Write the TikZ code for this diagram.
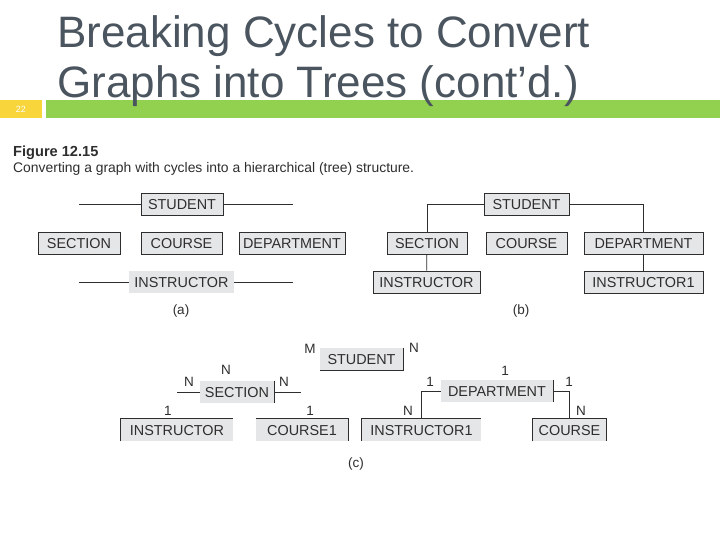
\documentclass[tikz,border=0pt]{standalone}
\usepackage{fontspec}
\setmainfont{Liberation Sans}
\definecolor{titlegray}{HTML}{4B555F}
\definecolor{bargreen}{HTML}{92D050}
\definecolor{baryellow}{HTML}{F8D53A}
\definecolor{boxfill}{HTML}{E5E6E7}
\definecolor{inkgray}{HTML}{2E2E2E}
\tikzset{
	entity/.style={fill=boxfill,draw=inkgray,line width=0.8pt,minimum height=22pt,
		inner sep=0pt,text height=10.5pt,text depth=0pt,text=inkgray,
		font=\fontsize{14.4}{16}\selectfont},
	entityopen/.style={entity,draw=none},
	link/.style={draw=inkgray,line width=0.8pt},
	card/.style={inner sep=0pt,text=inkgray,font=\fontsize{13.5}{15}\selectfont},
	sublabel/.style={inner sep=0pt,text=inkgray,font=\fontsize{13.5}{15}\selectfont},
}
\begin{document}
\begin{tikzpicture}[x=1pt,y=-1pt]
	\useasboundingbox[fill=white] (0,0) rectangle (720,540);
	% slide header
	\fill[baryellow] (0,100) rectangle (42,118);
	\fill[bargreen] (46,100) rectangle (720,118);
	\node[text=white,font=\fontsize{9}{10}\selectfont] (pagenum) at (21,109) {22};
	\node[anchor=base west,inner sep=0pt,text=titlegray,font=\fontsize{44}{50}\selectfont] (title1) at (57,48) {Breaking Cycles to Convert};
	\node[anchor=base west,inner sep=0pt,text=titlegray,font=\fontsize{44}{50}\selectfont] (title2) at (57,98) {Graphs into Trees (cont’d.)};
	\node[anchor=base west,inner sep=0pt,text=inkgray,font=\bfseries\fontsize{14.6}{16}\selectfont] (fignum) at (13,157) {Figure 12.15};
	\node[anchor=base west,inner sep=0pt,text=inkgray,font=\fontsize{13.9}{16}\selectfont] (figcap) at (13,172.5) {Converting a graph with cycles into a hierarchical (tree) structure.};
	%
	% (a) graph with cycles
	\node[entity,minimum width=82pt] (stua) at (182,204.5) {STUDENT};
	\node[entity,minimum width=82pt] (seca) at (79,243) {SECTION};
	\node[entity,minimum width=81pt] (crsa) at (181.5,243) {COURSE};
	\node[entity,minimum width=106pt] (depa) at (292,243) {DEPARTMENT};
	\node[entityopen,minimum width=105pt] (insa) at (181.5,282) {INSTRUCTOR};
	\coordinate (stua-l) at (79,204.5);
	\coordinate (stua-r) at (293,204.5);
	\coordinate (insa-l) at (79,282);
	\coordinate (insa-r) at (293,282);
	\draw[link] (stua.west) -- (stua-l);
	\draw[link] (stua.east) -- (stua-r);
	\draw[link] (insa.west) -- (insa-l);
	\draw[link] (insa.east) -- (insa-r);
	\node[sublabel] (laba) at (181,311) {(a)};
	%
	% (b) hierarchy with duplicated instructor
	\node[entity,minimum width=85pt] (stub) at (526.5,204.5) {STUDENT};
	\node[entity,minimum width=80pt] (secb) at (427,243) {SECTION};
	\node[entity,minimum width=81pt] (crsb) at (526.5,243) {COURSE};
	\node[entity,minimum width=119pt] (depb) at (643.5,243) {DEPARTMENT};
	\node[entity,minimum width=107pt] (insb) at (426.5,282) {INSTRUCTOR};
	\node[entity,minimum width=119pt] (ins1b) at (643.5,282) {INSTRUCTOR1};
	\draw[link] (stub.west) -| (secb.north);
	\draw[link] (stub.east) -| (depb.north);
	\draw[link] (secb) -- (insb);
	\draw[link] (depb) -- (ins1b);
	\node[sublabel] (labb) at (521,311) {(b)};
	%
	% (c) trees with cardinalities
	\node[entityopen,minimum width=83pt] (stuc) at (361.5,359) {STUDENT};
	\node[entityopen,minimum width=74pt] (secc) at (237,392) {SECTION};
	\node[entityopen,minimum width=112pt] (depc) at (497,391) {DEPARTMENT};
	\node[entityopen,minimum width=112pt] (insc) at (177,430) {INSTRUCTOR};
	\node[entityopen,minimum width=92pt] (crs1c) at (302,430) {COURSE1};
	\node[entityopen,minimum width=119pt] (ins1c) at (421.5,430) {INSTRUCTOR1};
	\node[entityopen,minimum width=73pt] (crsc) at (569.5,430) {COURSE};
	% visible box edges
	\draw[link] (stuc.north east) |- (stuc.south west);
	\draw[link] (secc.north east) -- (secc.south east);
	\draw[link] (depc.north east) -- (depc.south east);
	\draw[link] (insc.south west) |- (insc.north east);
	\draw[link] (crs1c.north west) -| (crs1c.south east);
	\draw[link] (ins1c.south west) |- (ins1c.north east);
	\draw[link] (crsc.south west) |- (crsc.north east) -- (crsc.south east);
	% connectors
	\coordinate (secc-l) at (177,392);
	\coordinate (secc-r) at (301,392);
	\draw[link] (secc.west) -- (secc-l);
	\draw[link] (secc.east) -- (secc-r);
	\draw[link] (depc.west) -| (ins1c.north);
	\draw[link] (depc.east) -| (crsc.north);
	% cardinalities
	\node[card] (c-m) at (310,349) {M};
	\node[card] (c-n1) at (414,348) {N};
	\node[card] (c-n2) at (189,382) {N};
	\node[card] (c-n3) at (226,370) {N};
	\node[card] (c-n4) at (284,382) {N};
	\node[card] (c-o1) at (168,411) {1};
	\node[card] (c-o2) at (310,411) {1};
	\node[card] (c-o3) at (505,371) {1};
	\node[card] (c-o4) at (430,382) {1};
	\node[card] (c-n5) at (408,411) {N};
	\node[card] (c-o5) at (569,382) {1};
	\node[card] (c-n6) at (581,411) {N};
	\node[sublabel] (labc) at (356,464) {(c)};
\end{tikzpicture}
\end{document}
